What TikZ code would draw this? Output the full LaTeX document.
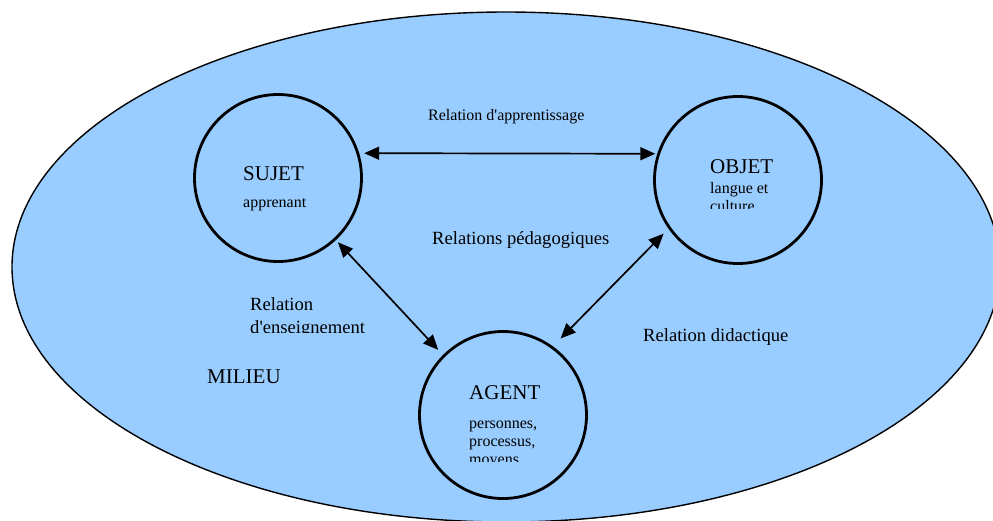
\documentclass[tikz,border=0pt]{standalone}
\usepackage{fontspec}
\setmainfont{Liberation Serif}
\usetikzlibrary{arrows.meta}
\definecolor{milieublue}{HTML}{99CCFF}
\tikzset{
  circ/.style={circle, draw, line width=2.8pt, minimum size=167pt, inner sep=0pt},
  rel/.style={line width=1.7pt, {Triangle[length=15pt,width=13pt]}-{Triangle[length=15pt,width=13pt]}},
  ttl/.style={anchor=base west, inner sep=0pt, font=\fontsize{21}{25}\selectfont},
  sub/.style={anchor=base west, inner sep=0pt, font=\fontsize{16}{18}\selectfont},
  lab/.style={anchor=base west, inner sep=0pt, font=\fontsize{18.6}{23}\selectfont},
}
\begin{document}
\begin{tikzpicture}[x=1pt,y=-1pt]
\useasboundingbox (0,0) rectangle (993,520);
\clip (0,0) rectangle (993,520);
\fill[white] (0,0) rectangle (993,520);
\draw[fill=milieublue, line width=1.4pt] (506,267) ellipse [x radius=494, y radius=255];

\node[circ] (sujet) at (278,178) {};
\node[circ] (objet) at (738,180) {};
\node[circ] (agent) at (503,415) {};

\node[ttl] (sujett) at (243,180) {SUJET};
\node[sub] (sujets) at (243,207) {apprenant};

\node[ttl] (objett) at (710,173) {OBJET};
\node[sub] (objets1) at (710,193) {langue et};
\begin{scope}
  \clip (700,195) rectangle (800,208);
  \node[sub] (objets2) at (710,211) {culture};
\end{scope}

\node[ttl] (agentt) at (469,399) {AGENT};
\node[sub] (agents1) at (469,428) {personnes,};
\node[sub] (agents2) at (469,446) {processus,};
\begin{scope}
  \clip (460,448) rectangle (560,461);
  \node[sub] (agents3) at (469,464) {moyens};
\end{scope}

\node[sub] (rapp) at (428,120) {Relation d\textquotesingle apprentissage};
\node[lab] (rped) at (432,244) {Relations pédagogiques};
\node[lab] (rdid) at (643,341) {Relation didactique};
\node[lab] (rens1) at (250,310) {Relation};
\begin{scope}
  \clip (240,312) rectangle (380,332);
  \node[lab] (rens2) at (250,333) {d\textquotesingle enseignement};
\end{scope}
\node[ttl] (milieu) at (207,383) {MILIEU};

\draw[rel, shorten <=5pt, shorten >=2pt] (sujet.17) -- (objet.162);
\draw[rel, shorten <=3pt, shorten >=7pt] (sujet.-47) -- (agent.135);
\draw[rel, shorten <=7pt, shorten >=11pt] (objet.-145) -- (agent.54);
\end{tikzpicture}
\end{document}
